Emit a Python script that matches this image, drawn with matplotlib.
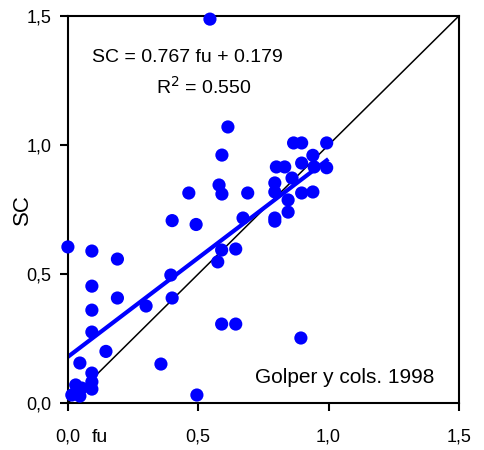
import numpy as np
import matplotlib
matplotlib.use('Agg')
import matplotlib.pyplot as plt
from matplotlib.ticker import FuncFormatter

plt.rcParams['font.family'] = ['Liberation Sans', 'DejaVu Sans']

# datos (fu, SC)
fu = [0.545, 0.614, 0.591, 0.464, 0.580, 0.591, 0.690, 0.400, 0.492, 0.672,
      0.866, 0.897, 0.993, 0.800, 0.832, 0.897, 0.940, 0.945, 0.993, 0.860,
      0.794, 0.794, 0.845, 0.897, 0.940, 0.845, 0.794, 0.794, 0.894,
      0.590, 0.644, 0.575, 0.395, 0.400, 0.300, 0.590, 0.644, 0.357, 0.495,
      0.000, 0.092, 0.190, 0.092, 0.190, 0.092, 0.092, 0.146, 0.046, 0.092,
      0.092, 0.092, 0.030, 0.053, 0.015, 0.046]
sc = [1.488, 1.070, 0.961, 0.814, 0.845, 0.810, 0.814, 0.707, 0.692, 0.717,
      1.008, 1.008, 1.008, 0.915, 0.915, 0.930, 0.960, 0.915, 0.912, 0.872,
      0.853, 0.818, 0.787, 0.814, 0.818, 0.740, 0.717, 0.705, 0.252,
      0.593, 0.597, 0.547, 0.496, 0.407, 0.376, 0.306, 0.306, 0.151, 0.031,
      0.605, 0.589, 0.558, 0.453, 0.407, 0.360, 0.275, 0.200, 0.155, 0.116,
      0.082, 0.054, 0.070, 0.058, 0.031, 0.027]

slope = 0.767
intercept = 0.179
r2 = 0.550

fig = plt.figure(figsize=(4.85, 4.5), dpi=100)
ax = fig.add_axes([0.140, 0.1044, 0.806, 0.860])

# linea de identidad
ax.plot([0, 1.5], [0, 1.5], color='black', lw=1.1, zorder=1)

ax.scatter(fu, sc, s=90, color='#0000ff', edgecolors='none', zorder=3, clip_on=False)

# recta de regresion
xr = np.array([0.0, max(fu)])
ax.plot(xr, slope * xr + intercept, color='#0000ff', lw=3, zorder=2)

ax.set_xlim(0, 1.5)
ax.set_ylim(0, 1.5)
ticks = [0, 0.5, 1.0, 1.5]
ax.set_xticks(ticks)
ax.set_yticks(ticks)
fmt = FuncFormatter(lambda v, p: f'{v:.1f}'.replace('.', ','))
ax.xaxis.set_major_formatter(fmt)
ax.yaxis.set_major_formatter(fmt)
ax.tick_params(direction='out', length=6, width=1.5, labelsize=13, pad=6)
ax.tick_params(axis='x', pad=12)
for s in ax.spines.values():
    s.set_linewidth(1.5)

ax.text(0.46, 1.341, f'SC = {slope} fu + {intercept}', ha='center', va='center', fontsize=14)
ax.text(0.52, 1.225, f'R$^2$ = {r2:.3f}', ha='center', va='center', fontsize=14)
ax.text(1.062, 0.097, 'Golper y cols. 1998', ha='center', va='center', fontsize=15)

fig.text(22 / 485, 1 - 210 / 450, 'SC', rotation=90, ha='center', va='center', fontsize=16)
fig.text(100 / 485, 1 - 437 / 450, 'fu', ha='center', va='center', fontsize=14)

fig.savefig('out.png', dpi=100)
